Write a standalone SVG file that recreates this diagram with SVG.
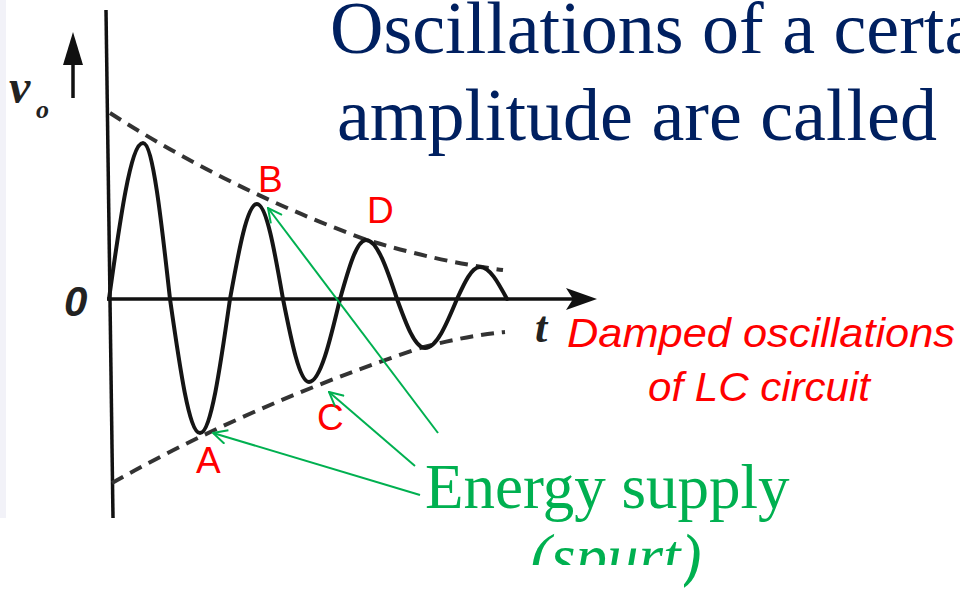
<svg xmlns="http://www.w3.org/2000/svg" width="960" height="591" viewBox="0 0 960 591">
<style>
.title{font-family:"Liberation Serif","Times New Roman",serif;font-size:74px;fill:#002060}
.lbl{font-family:"Liberation Sans",Arial,sans-serif;font-size:37px;fill:#FF0000}
.cap{font-family:"Liberation Sans",Arial,sans-serif;font-style:italic;font-size:40px;fill:#FF0000}
.green{font-family:"Liberation Serif","Times New Roman",serif;font-size:63px;fill:#00B050}
.axis{stroke:#111;stroke-width:3.5;fill:none}
.env{stroke:#333;stroke-width:4;fill:none;stroke-dasharray:13 8}
.wave{stroke:#151515;stroke-width:4;fill:none;stroke-linejoin:round;stroke-linecap:round}
.ptr{stroke:#00B050;stroke-width:2;fill:none;marker-end:url(#open)}
.ax{font-family:"Liberation Serif","Times New Roman",serif;font-style:italic;font-weight:bold;fill:#222}
</style>
<defs>
<marker id="open" viewBox="0 0 16 16" refX="15" refY="8" markerWidth="16" markerHeight="16" markerUnits="userSpaceOnUse" orient="auto">
<path d="M1,1 L15,8 L1,15" fill="none" stroke="#00B050" stroke-width="2"/>
</marker>
<clipPath id="cut">
<rect x="0" y="0" width="960" height="565"/>
<rect x="684" y="0" width="40" height="591"/>
</clipPath>
</defs>
<rect x="0" y="0" width="960" height="591" fill="#fff"/>
<rect x="0" y="0" width="6" height="518" fill="#f2f2f8"/>

<g id="plot">
<line class="axis" x1="106" y1="10" x2="113" y2="518"/>
<line class="axis" x1="107" y1="299" x2="585" y2="299"/>
<path d="M597,299 L566,288 L573,299 L566,310 Z" fill="#111"/>
<line class="axis" x1="73" y1="98" x2="73" y2="55"/>
<path d="M73,32 L63,65 L83,65 Z" fill="#111"/>
<text class="ax" x="9" y="103" font-size="48">v</text>
<text class="ax" x="36" y="118" font-size="26">o</text>
<text x="64" y="316" font-family="Liberation Sans,Arial,sans-serif" font-style="italic" font-weight="bold" font-size="42" fill="#222">0</text>
<text class="ax" x="535" y="342" font-size="44">t</text>
<path class="env" d="M110,113 Q230,190 367,240 Q440,262 503,270"/>
<path class="env" d="M112,483 Q250,405 420,348 Q470,335 505,332"/>
<path class="wave" d="M109,299 C120.1,219.1 130.7,143 143,143 C152.8,143 161.2,219.1 170,299 C179.8,367.6 189.1,433 200,433 C210.9,433 220.2,367.6 230,299 C238.8,250.3 247.2,204 257,204 C266.4,204 274.5,250.3 283,299 C291.5,341.5 299.6,382 309,382 C320.2,382 329.9,341.5 340,299 C348.5,268.8 356.6,240 366,240 C377.2,240 386.9,268.8 397,299 C406.1,324.1 414.9,348 425,348 C436.6,348 446.6,324.1 457,299 C464.5,282.6 471.7,267 480,267 C489.8,267 498.2,282.6 507,299"/>
</g>

<g id="title">
<text class="title" x="330" y="53">Oscillations of a certa</text>
<text class="title" x="337" y="140">amplitude are called</text>
</g>

<g id="caption">
<text class="cap" x="567" y="347" textLength="388" lengthAdjust="spacingAndGlyphs">Damped oscillations</text>
<text class="cap" x="648" y="401" textLength="222" lengthAdjust="spacingAndGlyphs">of LC circuit</text>
</g>

<g id="labelB"><text class="lbl" x="258" y="192">B</text></g>
<g id="labelD"><text class="lbl" x="367" y="223">D</text></g>
<g id="labelC"><text class="lbl" x="317" y="430">C</text></g>
<g id="labelA"><text class="lbl" x="196" y="473">A</text></g>

<g id="energy">
<text class="green" x="425" y="508">Energy supply</text>
<text class="green" x="530" y="578" font-style="italic" clip-path="url(#cut)">(spurt)</text>
</g>

<g id="connectors">
<line class="ptr" x1="438" y1="433" x2="268" y2="208"/>
<line class="ptr" x1="415" y1="466" x2="329" y2="392"/>
<line class="ptr" x1="420" y1="495" x2="213" y2="433"/>
</g>
</svg>
